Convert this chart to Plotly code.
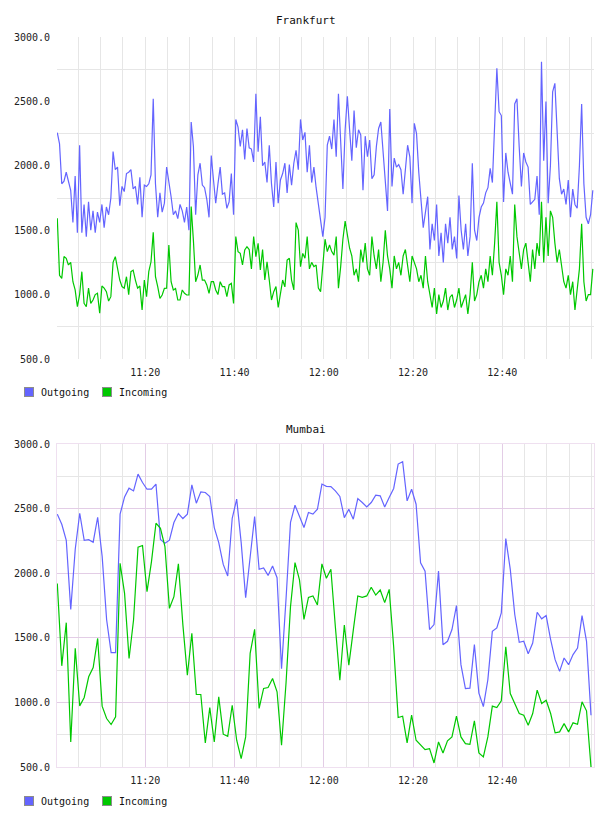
import pandas as pd
import plotly.graph_objects as go

# ---------------- data ----------------
frankfurt_outgoing = [
    2257, 2170, 1860, 1880, 1950, 1880, 1810, 1560, 1920, 1480,
    2160, 1480, 1700, 1450, 1720, 1500, 1650, 1480, 1640, 1560,
    1700, 1520, 1680, 1620, 1750, 2110, 1970, 1990, 1690, 1840,
    1800, 1940, 1950, 1970, 1820, 1840, 1700, 1910, 1600, 1850,
    1840, 1860, 1930, 2520, 1860, 1600, 1790, 1640, 1710, 1990,
    1890, 1760, 1620, 1650, 1590, 1700, 1650, 1560, 1680, 1500,
    2340, 2150, 1620, 1930, 2020, 1850, 1830, 1740, 1600, 2080,
    1890, 1710, 1860, 1990, 1780, 1790, 1670, 1720, 1940, 1620,
    2360, 2300, 2150, 2280, 2050, 2290, 2140, 2130, 2030, 2560,
    2110, 2380, 2000, 2030, 1870, 2160, 1860, 1680, 2030, 1710,
    1890, 1940, 2020, 1790, 2010, 1850, 2020, 2120, 1970, 2360,
    2200, 2260, 1950, 2160, 1870, 1990, 1830, 1700, 1560, 1450,
    1600, 2160, 2230, 2130, 2360, 2070, 2560, 2170, 1820, 2280,
    2540, 2280, 2040, 2430, 2140, 2280, 2240, 1810, 2230, 2070,
    2200, 1900, 1930, 2150, 2290, 2340, 2100, 1920, 1650, 2440,
    1840, 2060, 1990, 2010, 1970, 1780, 1990, 2160, 2070, 1710,
    2330, 2250, 1950, 1760, 1520, 1640, 1760, 1350, 1550, 1420,
    1700, 1300, 1480, 1250, 1550, 1400, 1600, 1350, 1450, 1280,
    1770, 1500, 1350, 1550, 1300, 1450, 2020, 1500, 1420, 1600,
    1680, 1710, 1790, 1830, 1980, 1870, 2300, 2757, 2420, 2390,
    1720, 2100, 1950, 1860, 1780, 2480, 2520, 2150, 1840, 2100,
    2030, 1990, 1700, 1720, 1740, 1920, 1620, 2808, 2040, 2500,
    1710, 2000, 2575, 2640, 2300, 1900, 1780, 1820, 1700, 1890,
    1600, 1820, 1700, 1670, 2000, 2480, 1860, 1600, 1550, 1620, 1810,
]
frankfurt_incoming = [
    1592, 1150, 1126, 1295, 1282, 1230, 1250, 1100, 1036, 906,
    1000, 1178, 932, 906, 1050, 932, 958, 1000, 1010, 855,
    1067, 1050, 1023, 950, 984, 1250, 1295, 1200, 1113, 1062,
    1050, 1139, 1000, 1178, 1190, 1113, 1050, 1067, 880, 1113,
    984, 1178, 1255, 1483, 1139, 1062, 970, 997, 1049, 1050,
    1385, 1100, 1036, 1048, 958, 958, 1036, 1010, 997, 997,
    1683, 1420, 1100, 1152, 1230, 1113, 1113, 1075, 1010, 1100,
    1100, 1036, 1000, 1100, 1062, 1062, 984, 1075, 1087, 932,
    1450, 1333, 1320, 1230, 1346, 1372, 1350, 1200, 1450, 1295,
    1398, 1191, 1350, 1113, 1255, 1113, 958, 1023, 1062, 900,
    1010, 1113, 1060, 1268, 1282, 1113, 1036, 1559, 1500, 1217,
    1320, 1282, 1450, 1200, 1250, 1217, 1230, 1050, 1023, 1230,
    1430, 1334, 1385, 1334, 1307, 1450, 1050, 1217, 1430, 1570,
    1450, 1360, 1300, 1150, 1200, 1100, 1350, 1250, 1400, 1200,
    1150, 1450, 1300, 1200, 1350, 1100, 1250, 1500, 1300, 1200,
    1050, 1300, 1200, 1250, 1150, 1300, 1350, 1200, 1100, 1300,
    1250, 1200, 1100, 1150, 1050, 1300, 1100, 1000, 900, 1050,
    850, 1000, 900, 950, 1050, 880, 980, 1000, 900, 960,
    1050, 900, 950, 1000, 850, 1000, 1250, 950, 1000, 1100,
    1150, 1050, 1200, 1100, 1300, 1150, 1400, 1720, 1250, 1150,
    1000, 1200, 1150, 1300, 1100, 1700, 1450, 1300, 1200, 1350,
    1400, 1250, 1100, 1350, 1200, 1400, 1300, 1720, 1250, 1600,
    1300, 1650, 1600, 1400, 1250, 1350, 1200, 1100, 1050, 1150,
    1000, 1100, 880, 1050, 1200, 1550, 1100, 950, 1000, 1000, 1200,
]
mumbai_outgoing = [
    2457, 2379, 2255, 1719, 2185, 2464, 2255, 2260, 2240, 2433,
    2130, 1640, 1385, 1385, 2457, 2590, 2658, 2637, 2767, 2702,
    2650, 2650, 2690, 2262, 2231, 2255, 2392, 2462, 2423, 2457,
    2684, 2542, 2630, 2625, 2594, 2353, 2237, 2068, 1978, 2425,
    2573, 2237, 1810, 2133, 2439, 2030, 2040, 1983, 2055, 1965,
    1261, 1800, 2394, 2526, 2443, 2353, 2470, 2457, 2495, 2690,
    2672, 2670, 2637, 2594, 2430, 2495, 2418, 2578, 2547, 2513,
    2547, 2604, 2599, 2513, 2586, 2656, 2845, 2863, 2560, 2650,
    2534, 2081, 2016, 1564, 1602, 2016, 1447, 1473, 1564, 1750,
    1292, 1106, 1110, 1447, 1072, 968, 1175, 1550, 1577, 1693,
    2268, 2030, 1680, 1465, 1473, 1377, 1460, 1698, 1647, 1672,
    1486, 1331, 1240, 1344, 1292, 1370, 1421, 1672, 1473, 900,
]
mumbai_incoming = [
    1920, 1283, 1617, 694, 1418, 973, 1038, 1198, 1270, 1495,
    971, 875, 829, 888, 2077, 1844, 1340, 1638, 2201, 2214,
    1857, 2090, 2387, 2348, 2206, 1728, 1818, 2072, 1600, 1210,
    1534, 1061, 1061, 686, 960, 694, 1043, 754, 738, 978,
    707, 565, 733, 1379, 1565, 953, 1108, 1115, 1185, 1082,
    668, 1150, 1741, 2082, 1948, 1643, 1813, 1824, 1754, 2072,
    1961, 2030, 1586, 1172, 1599, 1289, 1560, 1824, 1813, 1824,
    1891, 1831, 1870, 1772, 1875, 1431, 883, 893, 686, 901,
    707, 668, 635, 642, 531, 694, 609, 702, 733, 893,
    733, 681, 676, 857, 609, 578, 733, 971, 960, 1012,
    1431, 1069, 997, 914, 901, 823, 914, 1095, 991, 1017,
    914, 764, 772, 836, 772, 842, 831, 1004, 935, 500,
]
y_ticks = [500, 1000, 1500, 2000, 2500, 3000]
x_ticks = ["2013-05-14 11:20", "2013-05-14 11:40", "2013-05-14 12:00",
           "2013-05-14 12:20", "2013-05-14 12:40"]
series_names = ["Outgoing", "Incoming"]
series_colors = ["#6464ff", "#00c800"]

frankfurt_time = pd.date_range("2013-05-14 11:00:17", periods=len(frankfurt_outgoing), freq="30s")
mumbai_time = pd.date_range("2013-05-14 11:00:17", periods=len(mumbai_outgoing), freq="60300ms")
x_range = ["2013-05-14 11:00:13", "2013-05-14 13:00:33"]

# ---------------- figure ----------------
W, H = 608, 816
FONT = "DejaVu Sans Mono"
GREY = "#e6e6e6"
PURPLE = "#e3cde6"
BORDER = "#efe0f0"

fig = go.Figure()

charts = [
    ("Frankfurt", frankfurt_time, [frankfurt_outgoing, frankfurt_incoming], "x", "y", 392.5, 20),
    ("Mumbai", mumbai_time, [mumbai_outgoing, mumbai_incoming], "x2", "y2", 801, 429),
]
annotations = []
for title, t, series, xa, ya, leg_y, title_y in charts:
    for name, vals, col in zip(series_names, series, series_colors):
        fig.add_trace(go.Scatter(x=t, y=vals, mode="lines", name=name,
                                 line=dict(color=col, width=1.2),
                                 xaxis=xa, yaxis=ya, showlegend=False,
                                 hoverinfo="skip"))
    annotations.append(dict(text=title, x=306 / W, y=1 - title_y / H,
                            xref="paper", yref="paper", showarrow=False,
                            xanchor="center", yanchor="middle",
                            font=dict(family=FONT, size=11, color="#111")))
    # legend: colour box + label for each series
    for k, (name, col) in enumerate(zip(series_names, series_colors)):
        box_x = 29 + 78 * k
        annotations.append(dict(text=" ", x=box_x / W, y=1 - leg_y / H,
                                xref="paper", yref="paper", showarrow=False,
                                xanchor="center", yanchor="middle",
                                width=8, height=8, borderpad=0, borderwidth=1,
                                bgcolor=col, bordercolor="#8c8c8c",
                                font=dict(size=4)))
        annotations.append(dict(text=name, x=(box_x + 10) / W, y=1 - leg_y / H,
                                xref="paper", yref="paper", showarrow=False,
                                xanchor="left", yanchor="middle",
                                font=dict(family=FONT, size=10, color="#111")))

x_dom = [57 / W, 594 / W]
top_dom = [1 - 359 / H, 1 - 37 / H]
bot_dom = [1 - 767 / H, 1 - 444 / H]

def xaxis(anchor, major_col, border):
    return dict(
        domain=x_dom, anchor=anchor, type="date", range=x_range,
        tickformat="%H:%M", tickvals=x_ticks,
        showgrid=True, gridcolor=major_col, gridwidth=1,
        minor=dict(dtick=5 * 60 * 1000, tick0="2013-05-14 11:00:00",
                   showgrid=True, gridcolor=GREY, gridwidth=1),
        ticks="outside", ticklen=4, tickcolor="rgba(0,0,0,0)",
        tickfont=dict(family=FONT, size=10, color="#222"),
        showline=border, mirror=border, linecolor=BORDER, linewidth=1,
        zeroline=False, automargin=False, fixedrange=True,
    )

def yaxis(dom, anchor, major_grid, border):
    return dict(
        domain=dom, anchor=anchor, range=[500, 3000], tickvals=y_ticks,
        tickformat=".1f",
        showgrid=major_grid, gridcolor=PURPLE, gridwidth=1,
        minor=dict(tick0=750, dtick=500, showgrid=True, gridcolor=GREY, gridwidth=1),
        ticks="outside", ticklen=4, tickcolor="rgba(0,0,0,0)",
        tickfont=dict(family=FONT, size=10, color="#222"),
        showline=border, mirror=border, linecolor=BORDER, linewidth=1,
        zeroline=False, automargin=False, fixedrange=True,
    )

fig.update_layout(
    width=W, height=H,
    margin=dict(l=0, r=0, t=0, b=0),
    paper_bgcolor="white", plot_bgcolor="white",
    font=dict(family=FONT, size=10, color="#222"),
    showlegend=False,
    xaxis=xaxis("y", GREY, False),
    yaxis=yaxis(top_dom, "x", False, False),
    xaxis2=xaxis("y2", PURPLE, True),
    yaxis2=yaxis(bot_dom, "x2", True, True),
    annotations=annotations,
    hovermode=False,
)

fig.write_html("out.html")
